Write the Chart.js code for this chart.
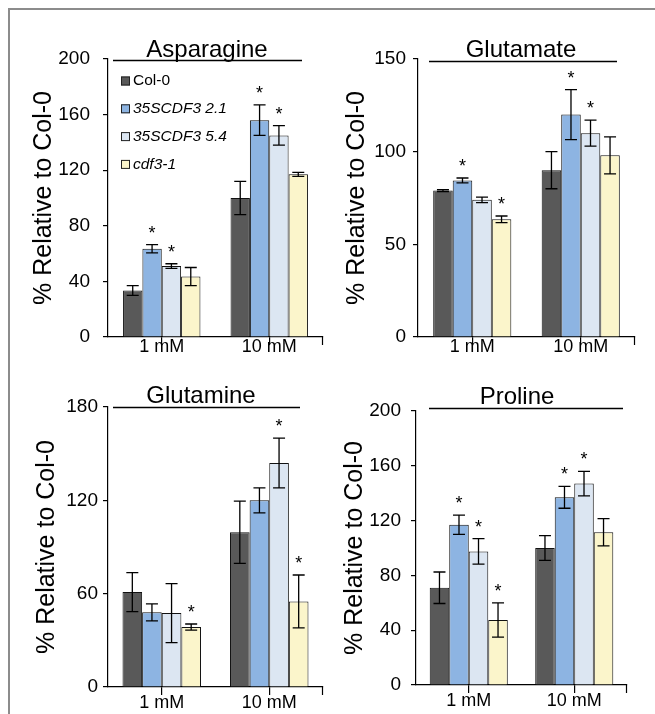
<!DOCTYPE html>
<html lang="en">
<head>
<meta charset="UTF-8">
<title>Amino acid content relative to Col-0</title>
<script src="https://cdn.jsdelivr.net/npm/chart.js@4.4.0/dist/chart.umd.js"></script>
<style>
    body { margin: 0; background: #fff; }
    #fig { position: relative; width: 655px; height: 714px; overflow: hidden; }
    #frame {
        position: absolute; left: 8px; top: 8px; right: 0; bottom: 0;
        border-top: 2px solid #8c8c8c; border-left: 2px solid #8c8c8c;
    }
    .panel { position: absolute; }
</style>
</head>
<body>
<div id="fig">
    <div id="frame"></div>
    <canvas id="asn" class="panel" width="330" height="362" style="left:0;top:0"></canvas>
    <canvas id="glu" class="panel" width="325" height="362" style="left:330px;top:0"></canvas>
    <canvas id="gln" class="panel" width="330" height="359" style="left:0;top:355px"></canvas>
    <canvas id="pro" class="panel" width="325" height="359" style="left:330px;top:355px"></canvas>
</div>
<script>
// categories and lines
const groups = ['1 mM', '10 mM'];
const lines = ['Col-0', '35SCDF3 2.1', '35SCDF3 5.4', 'cdf3-1'];

// means per line [1 mM, 10 mM], % of Col-0
const asnMeans = [[33.5, 100], [63.5, 156], [51, 145], [43.5, 117]];
const asnErrs  = [[3.5, 12], [3, 11], [1.7, 7], [6.5, 1.5]];
const asnStars = [[0, 0], [1, 1], [1, 1], [0, 0]];

const gluMeans = [[79, 90], [84.5, 120], [74, 110], [63.5, 98]];
const gluErrs  = [[0.5, 10], [1.3, 13.5], [1.5, 7], [1.8, 10]];
const gluStars = [[0, 0], [1, 1], [0, 1], [1, 0]];

const glnMeans = [[61, 99.5], [48, 120], [47.5, 144], [38.5, 55]];
const glnErrs  = [[12.5, 20], [5.5, 8], [19, 16], [2, 17]];
const glnStars = [[0, 0], [0, 0], [0, 1], [1, 1]];

const proMeans = [[71, 100], [117, 137], [97.5, 147], [47.5, 111.5]];
const proErrs  = [[11.5, 9], [7, 8], [9.3, 9], [12.5, 10]];
const proStars = [[0, 0], [1, 1], [1, 1], [1, 0]];

const barColors = ['#595959', '#8db4e2', '#dce6f2', '#fbf5cb'];
const italicLine = [false, true, true, true];
const FONT = '"Liberation Sans", Arial, sans-serif';

function makePanel(id, name, means, errs, stars, yMax, yStep, box) {
    const cv = document.getElementById(id);
    const W = cv.width, H = cv.height;

    const extras = {
        id: 'extras',
        afterDatasetsDraw(chart) {
            const ctx = chart.ctx, y = chart.scales.y, a = chart.chartArea;
            ctx.save();
            ctx.strokeStyle = '#000';
            ctx.fillStyle = '#000';
            ctx.lineWidth = 1.3;
            ctx.font = '18px ' + FONT;
            ctx.textAlign = 'center';
            ctx.textBaseline = 'alphabetic';
            chart.data.datasets.forEach((ds, i) => {
                chart.getDatasetMeta(i).data.forEach((bar, j) => {
                    const top = y.getPixelForValue(means[i][j] + errs[i][j]);
                    const bot = y.getPixelForValue(means[i][j] - errs[i][j]);
                    ctx.beginPath();
                    ctx.moveTo(bar.x, top); ctx.lineTo(bar.x, bot);
                    ctx.moveTo(bar.x - 6, top); ctx.lineTo(bar.x + 6, top);
                    ctx.moveTo(bar.x - 6, bot); ctx.lineTo(bar.x + 6, bot);
                    ctx.stroke();
                    if (stars[i][j]) ctx.fillText('*', bar.x, top - 6);
                });
            });
            // tick at the right end of the x axis
            ctx.lineWidth = 1.2;
            ctx.beginPath();
            ctx.moveTo(a.right - 0.5, a.bottom);
            ctx.lineTo(a.right - 0.5, a.bottom + 8);
            ctx.stroke();
            // panel title with rule
            ctx.font = '24px ' + FONT;
            ctx.fillText(name, box.titleX, box.titleY);
            ctx.lineWidth = 1.3;
            ctx.beginPath();
            ctx.moveTo(box.rule[0], box.rule[2]);
            ctx.lineTo(box.rule[1], box.rule[2]);
            ctx.stroke();
            // legend (first panel only)
            if (box.legend) {
                ctx.textAlign = 'left';
                ctx.textBaseline = 'middle';
                lines.forEach((ln, i) => {
                    const ly = box.legend[1] + i * 27.8;
                    ctx.fillStyle = barColors[i];
                    ctx.fillRect(box.legend[0], ly - 4.5, 9, 9);
                    ctx.strokeStyle = '#222';
                    ctx.lineWidth = 1;
                    ctx.strokeRect(box.legend[0] + 0.5, ly - 4, 8, 8);
                    ctx.fillStyle = '#000';
                    ctx.font = (italicLine[i] ? 'italic ' : '') + '15.5px ' + FONT;
                    ctx.fillText(ln, box.legend[0] + 12, ly);
                });
            }
            ctx.restore();
        }
    };

    return new Chart(cv.getContext('2d'), {
        type: 'bar',
        data: {
            labels: groups,
            datasets: lines.map((ln, i) => ({
                label: ln,
                data: means[i].slice(),
                backgroundColor: barColors[i],
                borderColor: '#111',
                borderWidth: 1,
                borderSkipped: 'bottom',
                categoryPercentage: box.cat,
                barPercentage: 1.0
            }))
        },
        options: {
            responsive: false,
            animation: false,
            events: [],
            layout: { padding: { left: 0, top: box.top, right: W - box.right, bottom: 0 } },
            plugins: { legend: { display: false }, title: { display: false }, tooltip: { enabled: false } },
            scales: {
                x: {
                    grid: { display: true, drawOnChartArea: false, drawTicks: true, tickLength: 8, offset: false, color: '#000', lineWidth: 1.2 },
                    border: { display: true, color: '#000', width: 1.2 },
                    ticks: { color: '#000', padding: box.xPad, font: { family: FONT, size: 18 }, maxRotation: 0 },
                    afterFit: s => { s.height = H - box.bottom; }
                },
                y: {
                    min: 0,
                    max: yMax,
                    grid: { display: true, drawOnChartArea: false, drawTicks: true, tickLength: 5, color: '#000', lineWidth: 1.2 },
                    border: { display: true, color: '#000', width: 1.2 },
                    ticks: { stepSize: yStep, color: '#000', padding: box.tickPad, font: { family: FONT, size: 19 } },
                    title: {
                        display: true,
                        text: '% Relative to Col-0',
                        color: '#000',
                        font: { family: FONT, size: 25 },
                        padding: { top: box.titlePad, bottom: 0 }
                    },
                    afterFit: s => { s.width = box.left; }
                }
            }
        },
        plugins: [extras]
    });
}

makePanel('asn', 'Asparagine', asnMeans, asnErrs, asnStars, 200, 40,
    { left: 108, right: 323, top: 59, bottom: 337, cat: 0.72, titlePad: 29, tickPad: 13, xPad: -9,
      titleX: 207, titleY: 57, rule: [113, 302, 60.5], legend: [121, 81] });
makePanel('glu', 'Glutamate', gluMeans, gluErrs, gluStars, 150, 50,
    { left: 88, right: 305, top: 59, bottom: 337, cat: 0.72, titlePad: 12, tickPad: 7, xPad: -9,
      titleX: 191, titleY: 57, rule: [99, 287, 61.5] });
makePanel('gln', 'Glutamine', glnMeans, glnErrs, glnStars, 180, 60,
    { left: 108, right: 323, top: 52, bottom: 332, cat: 0.73, titlePad: 32, tickPad: 5, xPad: -3,
      titleX: 201, titleY: 48, rule: [113, 300, 52.5] });
makePanel('pro', 'Proline', proMeans, proErrs, proStars, 200, 40,
    { left: 86, right: 297, top: 56, bottom: 330, cat: 0.74, titlePad: 10, tickPad: 10, xPad: -3,
      titleX: 187, titleY: 49, rule: [99, 293, 53.5] });
</script>
</body>
</html>
